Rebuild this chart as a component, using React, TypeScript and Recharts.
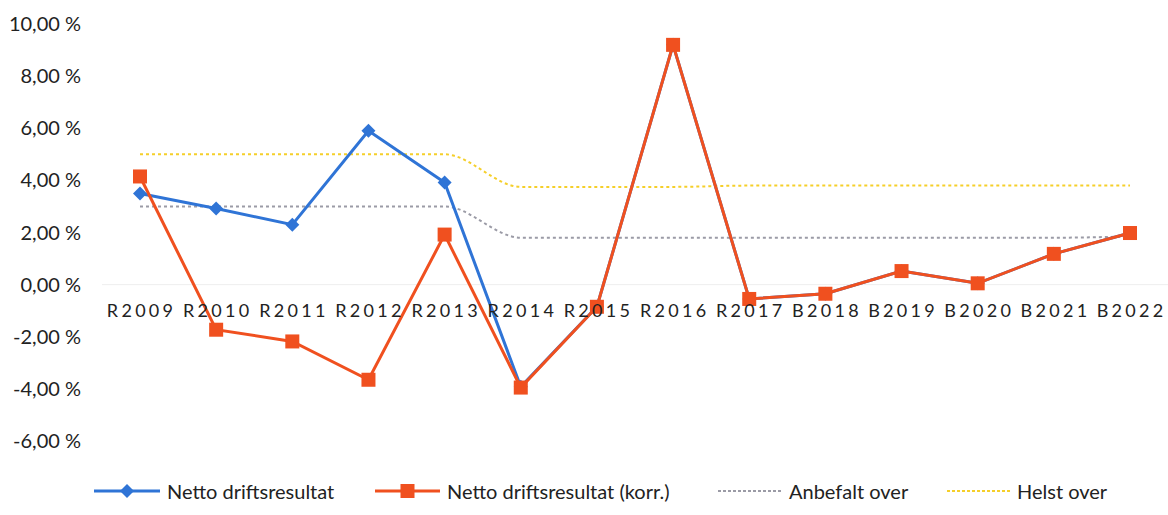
import React from "react";
import {
  LineChart,
  Line,
  XAxis,
  YAxis,
  Legend,
  ReferenceLine,
} from "recharts";

const categories = [
  "R2009", "R2010", "R2011", "R2012", "R2013", "R2014", "R2015",
  "R2016", "R2017", "B2018", "B2019", "B2020", "B2021", "B2022",
];
const netto = [3.5, 2.92, 2.3, 5.9, 3.92, -3.92, -0.85, 9.2, -0.55, -0.35, 0.52, 0.05, 1.18, 1.98];
const nettoKorr = [4.15, -1.73, -2.18, -3.65, 1.92, -3.95, -0.85, 9.2, -0.55, -0.35, 0.52, 0.05, 1.18, 1.98];
const anbefalt = [3, 3, 3, 3, 3, 1.8, 1.8, 1.8, 1.8, 1.8, 1.8, 1.8, 1.8, 1.85];
const helst = [5, 5, 5, 5, 5, 3.75, 3.75, 3.75, 3.8, 3.8, 3.8, 3.8, 3.8, 3.8];
const yTicks = [-6, -4, -2, 0, 2, 4, 6, 8, 10];

const data = categories.map((c, i) => ({
  name: c,
  netto: netto[i],
  korr: nettoKorr[i],
  anbefalt: anbefalt[i],
  helst: helst[i],
}));

const BLUE = "#2f74d6";
const ORANGE = "#f0501f";
const GRAY = "#9b9ba6";
const YELLOW = "#f5cf2a";
const FONT = "Lato, 'Noto Sans', sans-serif";

const W = 1168;
const H = 515;
const TOP = 24;
const BOTTOM = 441;
const ZERO_Y = TOP + (10 / 16) * (BOTTOM - TOP);

const fmt = (v: number) => v.toFixed(2).replace(".", ",") + " %";

const Diamond = (props: any) => {
  const { cx, cy } = props;
  if (cx == null || cy == null) return null;
  const s = 7;
  return (
    <polygon
      points={`${cx},${cy - s} ${cx + s},${cy} ${cx},${cy + s} ${cx - s},${cy}`}
      fill={BLUE}
    />
  );
};

const Square = (props: any) => {
  const { cx, cy } = props;
  if (cx == null || cy == null) return null;
  return <rect x={cx - 7} y={cy - 7} width={14} height={14} fill={ORANGE} />;
};

const XTick = (props: any) => {
  const { x, payload } = props;
  return (
    <text
      x={x + 1.6}
      y={ZERO_Y + 32}
      textAnchor="middle"
      fill="#222"
      fontSize={18}
      fontFamily={FONT}
      style={{ letterSpacing: 3.3 }}
    >
      {payload.value}
    </text>
  );
};

const LegendContent = () => {
  const items = [
    { x: 94, w: 66, label: "Netto driftsresultat", color: BLUE, marker: "diamond" },
    { x: 375, w: 65, label: "Netto driftsresultat (korr.)", color: ORANGE, marker: "square" },
    { x: 718, w: 64, label: "Anbefalt over", color: GRAY, marker: "dash" },
    { x: 947, w: 63, label: "Helst over", color: YELLOW, marker: "dash" },
  ];
  return (
    <div style={{ position: "relative", width: W, height: 40 }}>
      {items.map((it) => (
        <div
          key={it.label}
          style={{
            position: "absolute",
            left: it.x,
            top: 0,
            height: 40,
            display: "flex",
            alignItems: "center",
            fontFamily: FONT,
            fontSize: 20,
            color: "#222",
            whiteSpace: "nowrap",
          }}
        >
          <svg width={it.w} height={16} style={{ marginRight: 7 }}>
            {it.marker === "dash" ? (
              <line x1={0} y1={8} x2={it.w} y2={8} stroke={it.color} strokeWidth={2} strokeDasharray="3 2" />
            ) : (
              <line x1={0} y1={8} x2={it.w} y2={8} stroke={it.color} strokeWidth={3} />
            )}
            {it.marker === "diamond" && (
              <polygon
                points={`${it.w / 2},1 ${it.w / 2 + 7},8 ${it.w / 2},15 ${it.w / 2 - 7},8`}
                fill={it.color}
              />
            )}
            {it.marker === "square" && (
              <rect x={it.w / 2 - 7} y={1} width={14} height={14} fill={it.color} />
            )}
          </svg>
          <span>{it.label}</span>
        </div>
      ))}
    </div>
  );
};

export default function App() {
  return (
    <div style={{ position: "absolute", left: 0, top: 0, width: W, height: H, background: "#fff" }}>
      <LineChart
        width={W}
        height={H}
        data={data}
        margin={{ top: TOP, right: 0, left: 0, bottom: 4 }}
      >
        <XAxis
          dataKey="name"
          axisLine={false}
          tickLine={false}
          height={30}
          tick={<XTick />}
          interval={0}
          padding={{ left: 38, right: 38 }}
        />
        <YAxis
          domain={[-6, 10]}
          ticks={yTicks}
          width={102}
          axisLine={false}
          tickLine={false}
          tickMargin={15}
          tickFormatter={fmt}
          tick={{ fill: "#222", fontSize: 20, fontFamily: FONT }}
        />
        <ReferenceLine y={0} stroke="#eeeeee" strokeWidth={1} />
        <Legend verticalAlign="bottom" height={40} content={<LegendContent />} />
        <Line
          dataKey="helst"
          type="monotone"
          stroke={YELLOW}
          strokeWidth={2}
          strokeDasharray="3 3"
          dot={false}
          isAnimationActive={false}
        />
        <Line
          dataKey="anbefalt"
          type="monotone"
          stroke={GRAY}
          strokeWidth={2}
          strokeDasharray="3 3"
          dot={false}
          isAnimationActive={false}
        />
        <Line
          dataKey="netto"
          type="linear"
          stroke={BLUE}
          strokeWidth={3}
          dot={<Diamond />}
          activeDot={false}
          isAnimationActive={false}
        />
        <Line
          dataKey="korr"
          type="linear"
          stroke={ORANGE}
          strokeWidth={3}
          dot={<Square />}
          activeDot={false}
          isAnimationActive={false}
        />
      </LineChart>
    </div>
  );
}
